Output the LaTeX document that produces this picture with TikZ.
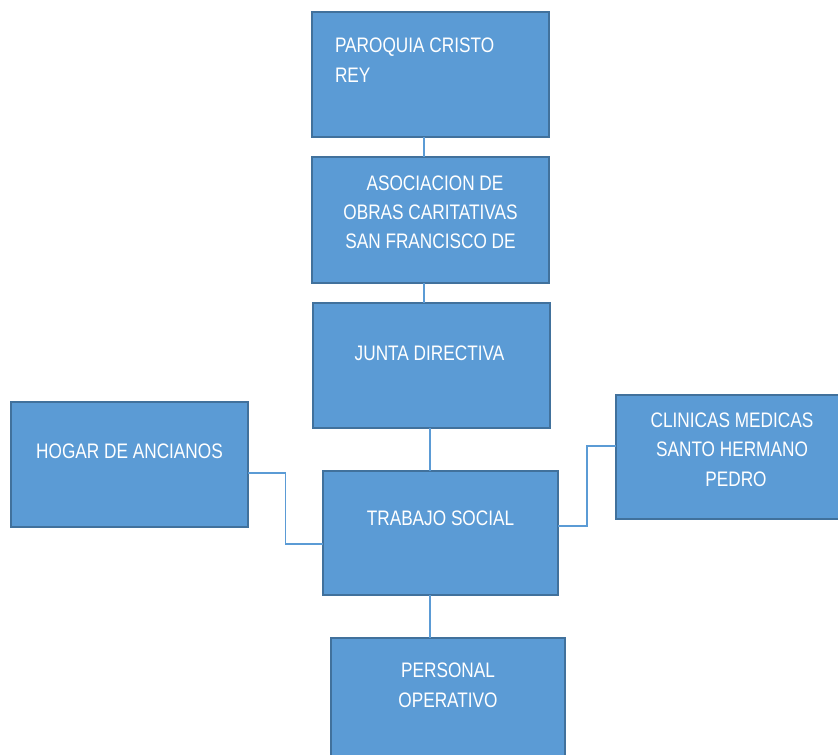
\documentclass[tikz,border=0pt]{standalone}
\usepackage{fontspec}
\setmainfont[FakeStretch=0.82]{Liberation Sans}
\usetikzlibrary{calc}
\definecolor{boxfill}{HTML}{5B9BD5}
\definecolor{boxline}{HTML}{41719C}
\definecolor{linkcol}{HTML}{5B9BD5}
\begin{document}
\begin{tikzpicture}[x=1pt,y=-1pt,
  orgbox/.style={draw=boxline, fill=boxfill, line width=2.8pt, rectangle, inner sep=0pt, outer sep=0pt},
  lbl/.style={text=white, inner sep=0pt, outer sep=0pt, font=\fontsize{21}{30}\selectfont},
  link/.style={draw=linkcol, line width=1.4pt}]
\useasboundingbox (0,0) rectangle (838,755);
% boxes
\node[orgbox, minimum width=237pt, minimum height=125pt] (b1) at (430.5,74.5) {};
\node[orgbox, minimum width=237pt, minimum height=126pt] (b2) at (430.5,220) {};
\node[orgbox, minimum width=237pt, minimum height=125pt] (b3) at (431.5,365.5) {};
\node[orgbox, minimum width=237pt, minimum height=125pt] (b4) at (129.5,464.5) {};
\node[orgbox, minimum width=235pt, minimum height=124pt] (b5) at (440.5,533) {};
\node[orgbox, minimum width=260pt, minimum height=124pt] (b6) at (746,457) {};
\node[orgbox, minimum width=234pt, minimum height=125pt] (b7) at (448,700.5) {};
% texts
\node[lbl, anchor=north west, align=left] (t1) at (335,37.8) {PAROQUIA CRISTO\\REY};
\node[lbl, anchor=north, align=center, font=\fontsize{21}{29}\selectfont] (t2) at (430.5,175.8) {\hspace*{9pt}ASOCIACION DE\\OBRAS CARITATIVAS\\SAN FRANCISCO DE};
\node[lbl, anchor=base] (t3) at (429.5,360) {JUNTA DIRECTIVA};
\node[lbl, anchor=base] (t4) at (129.5,458) {HOGAR DE ANCIANOS};
\node[lbl, anchor=base] (t5) at (440.5,525) {TRABAJO SOCIAL};
\node[lbl, anchor=north, align=center, font=\fontsize{21}{29.5}\selectfont] (t6) at (732,412.8) {CLINICAS MEDICAS\\SANTO HERMANO\\\hspace*{8pt}PEDRO};
\node[lbl, anchor=north, align=center] (t7) at (448,662.8) {PERSONAL\\OPERATIVO};
% connectors
\coordinate (c12) at ($(b1.south west)!0.473!(b1.south east)$);
\draw[link] (c12) -- (c12 |- b2.north);
\coordinate (c23) at ($(b2.south west)!0.473!(b2.south east)$);
\draw[link] (c23) -- (c23 |- b3.north);
\coordinate (c35) at ($(b3.south west)!0.494!(b3.south east)$);
\draw[link] (c35) -- (c35 |- b5.north);
\coordinate (c57) at ($(b5.south west)!0.455!(b5.south east)$);
\draw[link] (c57) -- (c57 |- b7.north);
\coordinate (h1) at ($(b4.north east)!0.568!(b4.south east)$);
\coordinate (h2) at ($(b5.north west)!0.589!(b5.south west)$);
\draw[link] (h1) -| ($(h1)!0.5!(h2)$) |- (h2);
\coordinate (k1) at ($(b6.north west)!0.411!(b6.south west)$);
\coordinate (k2) at ($(b5.north east)!0.444!(b5.south east)$);
\draw[link] (k1) -| ($(k1)!0.5!(k2)$) |- (k2);
\end{tikzpicture}
\end{document}
